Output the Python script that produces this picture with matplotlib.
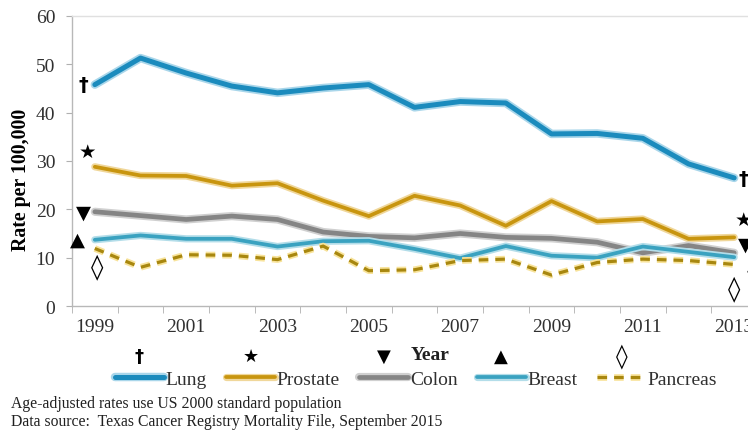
import matplotlib
matplotlib.use('Agg')
import matplotlib.pyplot as plt
import matplotlib.patheffects as pe
from matplotlib.ticker import FixedLocator

plt.rcParams['font.family'] = ['Liberation Serif', 'DejaVu Sans']

years = list(range(1999, 2014))
lung = [45.8, 51.3, 48.2, 45.5, 44.1, 45.1, 45.8, 41.1, 42.3, 42.0, 35.6, 35.7, 34.7, 29.4, 26.5]
prostate = [28.8, 27.0, 26.9, 24.9, 25.4, 21.8, 18.6, 22.8, 20.8, 16.6, 21.7, 17.5, 18.0, 13.9, 14.2]
colon = [19.5, 18.7, 17.9, 18.6, 17.9, 15.3, 14.4, 14.1, 15.0, 14.2, 14.0, 13.2, 11.0, 12.5, 11.0]
breast = [13.7, 14.6, 13.9, 13.9, 12.3, 13.4, 13.5, 11.8, 9.9, 12.4, 10.4, 10.0, 12.3, 11.2, 10.1]
pancreas = [11.9, 8.0, 10.6, 10.5, 9.6, 12.4, 7.3, 7.5, 9.4, 9.7, 6.4, 9.0, 9.7, 9.4, 8.6]

names = ['Lung', 'Prostate', 'Colon', 'Breast', 'Pancreas']
symbols = ['\u2020', '\u2605', '\u25BC', '\u25B2', '\u25CA']
sym_sizes = [14, 14, 14, 14, 18]
colors = ['#1b8bbd', '#c8950f', '#858585', '#3aa2c0', '#a8870f']
halos = ['#a9d6ea', '#f0d79a', '#d0d0d0', '#b3dde9', '#f8e39a']
widths = [3.6, 2.7, 3.4, 2.7, 2.3]
styles = ['-', '-', '-', '-', (0, (3, 2.2))]
series = [lung, prostate, colon, breast, pancreas]

fig = plt.figure(figsize=(7.48, 4.31), dpi=100)
ax = fig.add_axes([72 / 748, 124 / 431, 685 / 748, 290 / 431])

x = list(range(len(years)))
for vals, name, c, h, lw, ls in zip(series, names, colors, halos, widths, styles):
    ax.plot(x, vals, color=c, lw=lw, ls=ls, label=name, solid_capstyle='round',
            path_effects=[pe.Stroke(linewidth=lw + 2.5, foreground=h), pe.Normal()])

ax.set_xlim(-0.5, len(years) - 0.5)
ax.set_ylim(0, 60)
ax.set_yticks(range(0, 61, 10))
ax.set_xticks(x[::2])
ax.set_xticklabels([str(y) for y in years[::2]])
ax.xaxis.set_minor_locator(FixedLocator([i - 0.5 for i in range(len(years) + 1)]))
ax.tick_params(axis='x', which='major', length=0, pad=9, labelsize=14, labelcolor='#303030')
ax.tick_params(axis='x', which='minor', length=5, color='#b0b0b0', direction='out')
ax.tick_params(axis='y', length=4, color='#b0b0b0', labelsize=14, labelcolor='#303030', pad=8)
for s in ax.spines.values():
    s.set_color('#b8b8b8')
    s.set_linewidth(1.0)
ax.spines['top'].set_color('#e0e0e0')

ax.set_ylabel('Rate per 100,000', fontsize=14.3, fontweight='bold')
ax.yaxis.set_label_coords(-0.06, 0.44)

# end-of-line symbols
left_pos = [(-0.24, 45.8), (-0.15, 31.9), (-0.24, 19.4), (-0.37, 13.8), (0.06, 8.0)]
right_pos = [(14.2, 26.3), (14.2, 18.0), (14.24, 12.8), (14.45, 8.8), (14.0, 3.5)]
for sym, fs, (lx, ly), (rx, ry) in zip(symbols, sym_sizes, left_pos, right_pos):
    ax.text(lx, ly, sym, ha='center', va='center', fontsize=fs, fontweight='bold',
            family='DejaVu Sans', clip_on=False)
    ax.text(rx, ry, sym, ha='center', va='center', fontsize=fs, fontweight='bold',
            family='DejaVu Sans', clip_on=False)

leg = fig.legend(loc='center', bbox_to_anchor=(416 / 748, 1 - 380 / 431), ncol=5,
                 frameon=False, fontsize=14, handlelength=2.5, handletextpad=0.1,
                 columnspacing=1.0)
for t in leg.get_texts():
    t.set_color('#303030')

fig.text(430 / 748, 1 - 356 / 431, 'Year', ha='center', va='center',
         fontsize=14, fontweight='bold', color='#202020')

# symbols over legend handles
fig.canvas.draw()
inv = fig.transFigure.inverted()
for sym, fs, ln in zip(symbols, sym_sizes, leg.get_lines()):
    bb = ln.get_window_extent(fig.canvas.get_renderer())
    cx, cy = inv.transform(((bb.x0 + bb.x1) / 2, (bb.y0 + bb.y1) / 2))
    fig.text(cx, cy + 21 / 431, sym, ha='center', va='center', fontsize=fs - 1,
             fontweight='bold', family='DejaVu Sans')

fig.text(11 / 748, 1 - 404 / 431, 'Age-adjusted rates use US 2000 standard population',
         fontsize=11.3, va='center', color='#202020')
fig.text(11 / 748, 1 - 422 / 431, 'Data source:  Texas Cancer Registry Mortality File, September 2015',
         fontsize=11.3, va='center', color='#202020')

fig.savefig('out.png', dpi=100)
